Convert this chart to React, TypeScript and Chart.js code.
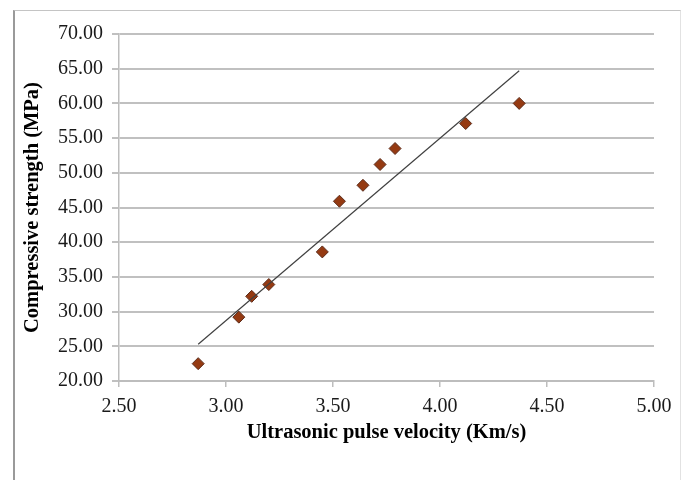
import React, { useEffect, useRef } from "react";
import { Chart, registerables } from "chart.js";

Chart.register(...registerables);

// Data
const velocity = [2.87, 3.06, 3.12, 3.2, 3.45, 3.53, 3.64, 3.72, 3.79, 4.12, 4.37];
const strength = [22.5, 29.2, 32.2, 33.9, 38.6, 45.9, 48.2, 51.2, 53.5, 57.1, 60.0];
const trendX = [2.87, 4.37];
const trendY = [25.3, 64.7];

const xTitle = "Ultrasonic pulse velocity (Km/s)";
const yTitle = "Compressive strength (MPa)";

const FONT = "'Liberation Serif', 'Times New Roman', serif";

export default function App() {
  const ref = useRef<HTMLCanvasElement | null>(null);

  useEffect(() => {
    if (!ref.current) return;
    const chart = new Chart(ref.current, {
      type: "scatter",
      data: {
        datasets: [
          {
            label: "Trend",
            data: trendX.map((x, i) => ({ x, y: trendY[i] })),
            showLine: true,
            borderColor: "#404040",
            borderWidth: 1.2,
            pointRadius: 0,
            fill: false,
            order: 0,
          },
          {
            label: "Data",
            data: velocity.map((x, i) => ({ x, y: strength[i] })),
            pointStyle: "rectRot",
            pointRadius: 6,
            backgroundColor: "#953a12",
            borderColor: "#5c2d1c",
            borderWidth: 1,
            order: 1,
          },
        ],
      },
      options: {
        animation: false,
        responsive: false,
        maintainAspectRatio: false,
        layout: { padding: { left: 0, top: 34, right: 34, bottom: 0 } },
        plugins: {
          legend: { display: false },
          tooltip: { enabled: false },
        },
        scales: {
          x: {
            type: "linear",
            min: 2.5,
            max: 5,
            afterFit: (s: any) => {
              s.height = 99;
            },
            ticks: {
              stepSize: 0.5,
              callback: (v: any) => Number(v).toFixed(2),
              color: "#1a1a1a",
              font: { family: FONT, size: 20 },
              padding: 8,
              maxRotation: 0,
            },
            grid: {
              display: true,
              drawOnChartArea: false,
              drawTicks: true,
              tickLength: 6,
              color: "#bdbdbd",
              lineWidth: 1.5,
            },
            border: { display: true, color: "#bdbdbd", width: 2 },
            title: {
              display: true,
              text: xTitle,
              color: "#000",
              font: { family: FONT, size: 20.5, weight: "bold" },
              padding: { top: 0, bottom: 35 },
            },
          },
          y: {
            type: "linear",
            min: 20,
            max: 70,
            afterFit: (s: any) => {
              s.width = 119;
            },
            ticks: {
              stepSize: 5,
              callback: (v: any) => Number(v).toFixed(2),
              color: "#1a1a1a",
              font: { family: FONT, size: 20 },
              padding: 9,
            },
            grid: {
              display: true,
              drawOnChartArea: true,
              drawTicks: true,
              tickLength: 7,
              color: "#c0c0c0",
              lineWidth: 2,
            },
            border: { display: true, color: "#bdbdbd", width: 1.5 },
            title: {
              display: true,
              text: yTitle,
              color: "#000",
              font: { family: FONT, size: 20.5, weight: "bold" },
              padding: { top: 20, bottom: 0 },
            },
          },
        },
      },
    });
    return () => chart.destroy();
  }, []);

  return (
    <>
      <canvas
        ref={ref}
        width={688}
        height={480}
        style={{ position: "fixed", left: 0, top: 0, width: 688, height: 480, background: "#fff" }}
      />
      <div
        style={{
          position: "fixed",
          left: 13,
          top: 10,
          width: 668,
          height: 470,
          borderTop: "1px solid #c4c4c4",
          borderRight: "1px solid #e2e2e2",
          borderLeft: "2px solid #9a9a9a",
          boxSizing: "border-box",
          pointerEvents: "none",
        }}
      />
    </>
  );
}
